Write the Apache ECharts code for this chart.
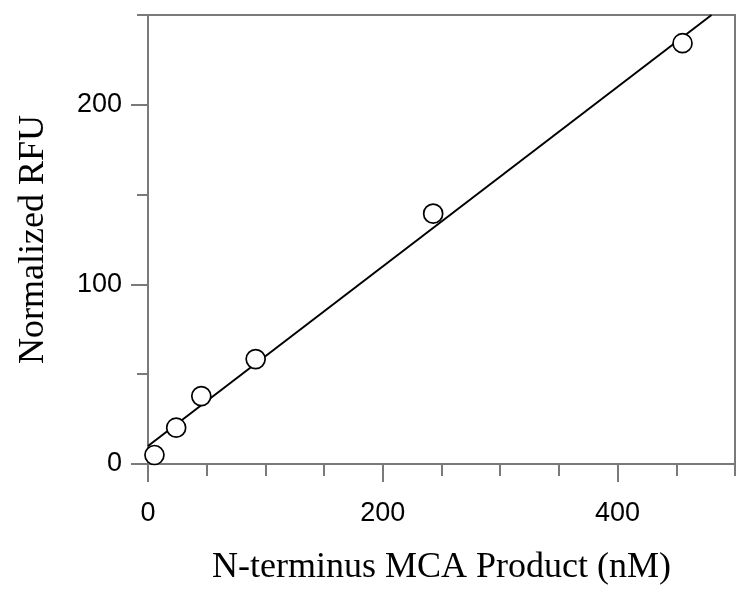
<!DOCTYPE html>
<html>
<head>
<meta charset="utf-8">
<script src="https://cdn.jsdelivr.net/npm/echarts@6/dist/echarts.min.js"></script>
<style>html,body{margin:0;padding:0;background:#fff;}#c{width:751px;height:591px;}</style>
</head>
<body>
<div id="c"></div>
<script>
const xData = [5.5, 24, 45.4, 91.7, 242.9, 455.3];
const yData = [5.0, 20.2, 37.8, 58.4, 139.4, 234.3];
const fitX = [0, 480];
const fitY = [10, 250];
const xMajorTicks = [0, 200, 400];
const yMajorTicks = [0, 100, 200];
const xTitle = 'N-terminus MCA Product (nM)';
const yTitle = 'Normalized RFU';

const axisColor = '#7a7a7a';
const chart = echarts.init(document.getElementById('c'));
const lineStyle = {color: axisColor, width: 2};
chart.setOption({
  animation: false,
  grid: {left: 148, right: 16, top: 15, bottom: 127, show: true, borderColor: axisColor, borderWidth: 2, backgroundColor: 'transparent'},
  xAxis: [
    {type: 'value', min: 0, max: 500, interval: 50, position: 'bottom',
     axisLine: {show: true, lineStyle}, axisTick: {show: true, length: 12, lineStyle},
     axisLabel: {show: false}, splitLine: {show: false}},
    {type: 'value', min: 0, max: 500, position: 'bottom',
     axisLine: {show: false}, axisTick: {show: true, length: 18, lineStyle, customValues: xMajorTicks},
     axisLabel: {show: true, customValues: xMajorTicks, fontFamily: 'Liberation Sans', fontSize: 27, color: '#000', margin: 36},
     splitLine: {show: false},
     name: xTitle, nameLocation: 'middle', nameGap: 86,
     nameTextStyle: {fontFamily: 'Liberation Serif', fontSize: 36, color: '#000'}}
  ],
  yAxis: [
    {type: 'value', min: 0, max: 250, interval: 50, position: 'left',
     axisLine: {show: true, lineStyle}, axisTick: {show: true, length: 11, lineStyle},
     axisLabel: {show: false}, splitLine: {show: false}},
    {type: 'value', min: 0, max: 250, position: 'left',
     axisLine: {show: false}, axisTick: {show: true, length: 17, lineStyle, customValues: yMajorTicks},
     axisLabel: {show: true, customValues: yMajorTicks, fontFamily: 'Liberation Sans', fontSize: 27, color: '#000', margin: 26},
     splitLine: {show: false},
     name: yTitle, nameLocation: 'middle', nameGap: 96, nameRotate: 90,
     nameTextStyle: {fontFamily: 'Liberation Serif', fontSize: 36, color: '#000'}}
  ],
  series: [
    {type: 'line', xAxisIndex: 0, yAxisIndex: 0, data: fitX.map((x, i) => [x, fitY[i]]),
     symbol: 'none', lineStyle: {color: '#000', width: 2}, clip: true, z: 2},
    {type: 'scatter', xAxisIndex: 0, yAxisIndex: 0, data: xData.map((x, i) => [x, yData[i]]),
     symbol: 'circle', symbolSize: 19,
     itemStyle: {color: '#fff', borderColor: '#000', borderWidth: 1.7, opacity: 1}, z: 3}
  ]
});
</script>
</body>
</html>
